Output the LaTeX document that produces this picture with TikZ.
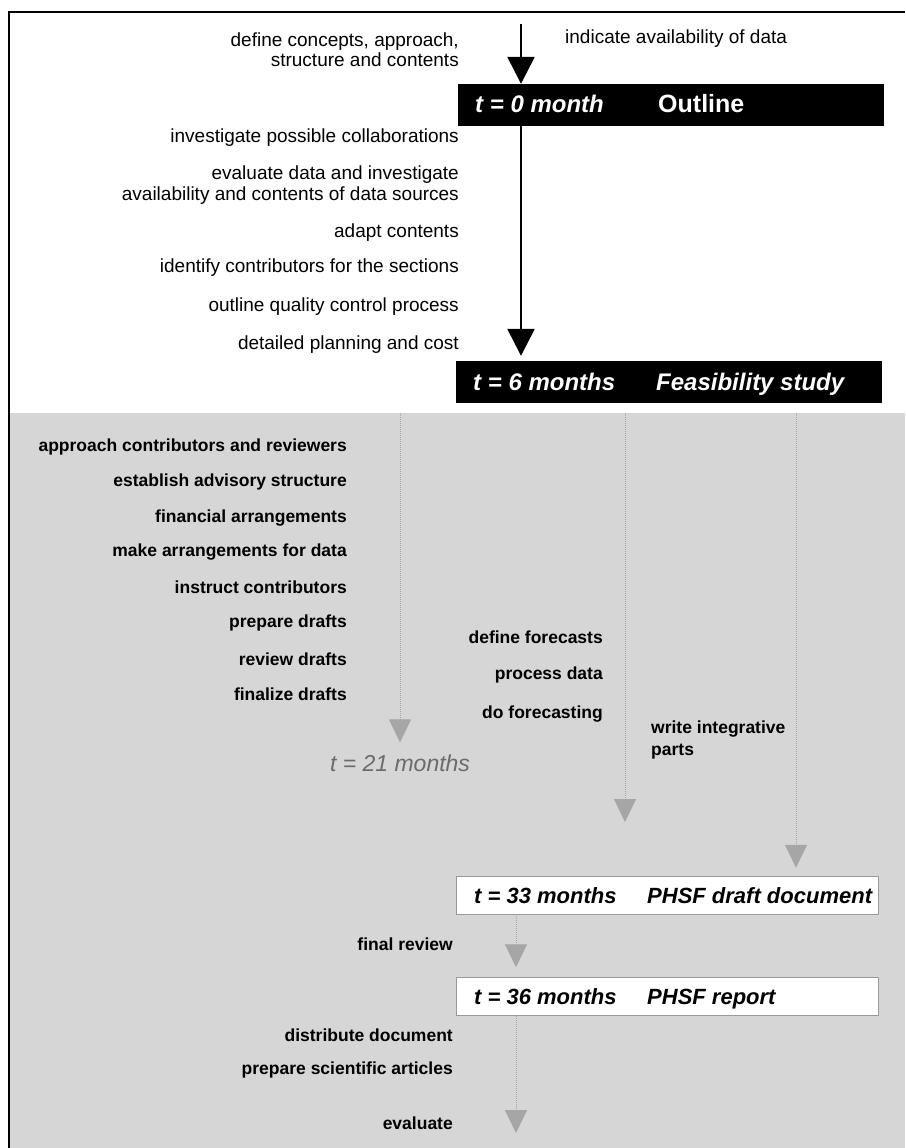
\documentclass[tikz,border=0pt]{standalone}
\usepackage{fontspec}
\setmainfont{Liberation Sans}
\usepackage{tikz}
\usetikzlibrary{shapes.geometric,arrows.meta}
\tikzstyle{darkbox}=[rectangle,draw=black,fill=black,minimum width=425pt,
minimum height=41pt,inner sep=0pt]
\tikzstyle{lightbox}=[rectangle,draw=black!40,fill=white,line width=0.5pt,minimum width=422pt,
minimum height=38pt,inner sep=0pt]
\tikzstyle{task}=[anchor=east,inner sep=0pt,align=right,font=\fontsize{19}{20.5}\selectfont]
\tikzstyle{note}=[anchor=west,inner sep=0pt,align=left,font=\fontsize{19}{22}\selectfont]
\tikzstyle{graytask}=[anchor=east,inner sep=0pt,align=right,font=\bfseries\fontsize{17.5}{22}\selectfont]
\tikzstyle{graynote}=[anchor=west,inner sep=0pt,align=left,font=\bfseries\fontsize{17.5}{22}\selectfont]
\tikzstyle{stamp}=[anchor=base west,inner sep=0pt,text=white,font=\bfseries\itshape\fontsize{24}{28}\selectfont]
\tikzstyle{phase}=[anchor=base west,inner sep=0pt,text=white,font=\bfseries\fontsize{25}{28}\selectfont]
\tikzstyle{lightstamp}=[anchor=base west,inner sep=0pt,font=\bfseries\itshape\fontsize{22}{26}\selectfont]
\tikzstyle{arrow}=[line width=2.5pt,-{Triangle[length=27pt,width=27pt]}]
\tikzstyle{grayarrow}=[black!35,line width=1pt,densely dotted,-{Triangle[length=23pt,width=22pt]}]

\begin{document}
\begin{tikzpicture}[x=1pt,y=-1pt]
    \useasboundingbox (0,0) rectangle (905,1148);
    % shaded lower part and frame
    \fill[black!16] (9,413) rectangle (905,1148);
    \draw[line width=2pt] (9,1148) -- (9,12) -- (905,12);

    % outline phase
    \coordinate (a0) at (521,24);
    \node (t0) [task] at (459,49.5) {define concepts, approach,\\structure and contents};
    \node (d0) [note] at (565,39) {indicate availability of data};
    \node (o0) [darkbox] at (670.5,104.5) {};
    \node (o0t) [stamp] at (475,112.5) {t = 0 month};
    \node (o0n) [phase] at (658,112.5) {Outline};

    \node (t1) [task] at (459,138) {investigate possible collaborations};
    \node (t2) [task] at (459,185) {evaluate data and investigate\\availability and contents of data sources};
    \node (t3) [task] at (459,233) {adapt contents};
    \node (t4) [task] at (459,268) {identify contributors for the sections};
    \node (t5) [task] at (459,307) {outline quality control process};
    \node (t6) [task] at (459,345) {detailed planning and cost};

    % feasibility study
    \node (o6) [darkbox] at (669,381.5) {};
    \node (o6t) [stamp] at (473,390) {t = 6 months};
    \node (o6n) [stamp] at (656,390) {Feasibility study};

    \draw [arrow] (a0) -- (a0 |- o0.north);
    \draw [arrow,shorten >=5pt] (o0.south -| a0) -- (o6.north -| a0);

    % three parallel lines of work
    \coordinate (g1) at (400,413);
    \coordinate (g2) at (625,413);
    \coordinate (g3) at (796,413);
    \coordinate (e2) at (625,822);

    \node (w1) [graytask] at (347,447) {approach contributors and reviewers};
    \node (w2) [graytask] at (347,482) {establish advisory structure};
    \node (w3) [graytask] at (347,518) {financial arrangements};
    \node (w4) [graytask] at (347,552) {make arrangements for data};
    \node (w5) [graytask] at (347,587) {instruct contributors};
    \node (w6) [graytask] at (347,623) {prepare drafts};
    \node (w7) [graytask] at (347,659) {review drafts};
    \node (w8) [graytask] at (347,694) {finalize drafts};
    \node (t21) [text=black!58,inner sep=0pt,font=\itshape\fontsize{23}{26}\selectfont] at (400,763) {t = 21 months};

    \node (f1) [graytask] at (603,637) {define forecasts};
    \node (f2) [graytask] at (603,675) {process data};
    \node (f3) [graytask] at (603,714) {do forecasting};

    \node (i1) [graynote] at (651,740) {write integrative\\parts};

    % draft and report
    \node (b33) [lightbox] at (667,895) {};
    \node (b33t) [lightstamp] at (474,903) {t = 33 months};
    \node (b33n) [lightstamp] at (647,903) {PHSF draft document};
    \node (r1) [graytask] at (453,944) {final review};
    \node (b36) [lightbox] at (667,996.5) {};
    \node (b36t) [lightstamp] at (474,1004) {t = 36 months};
    \node (b36n) [lightstamp] at (647,1004) {PHSF report};
    \node (r2) [graytask] at (453,1035) {distribute document};
    \node (r3) [graytask] at (453,1070) {prepare scientific articles};
    \node (r4) [graytask] at (453,1123) {evaluate};
    \coordinate (x3) at (516,914);
    \coordinate (e4) at (516,1133);

    \draw [grayarrow,shorten >=12pt] (g1) -- (t21.north);
    \draw [grayarrow] (g2) -- (e2);
    \draw [grayarrow,shorten >=8pt] (g3) -- (g3 |- b33.north);
    \draw [grayarrow,shorten >=10pt] (b33.south -| x3) -- (b36.north -| x3);
    \draw [grayarrow] (b36.south -| x3) -- (e4);

\end{tikzpicture}
\end{document}
